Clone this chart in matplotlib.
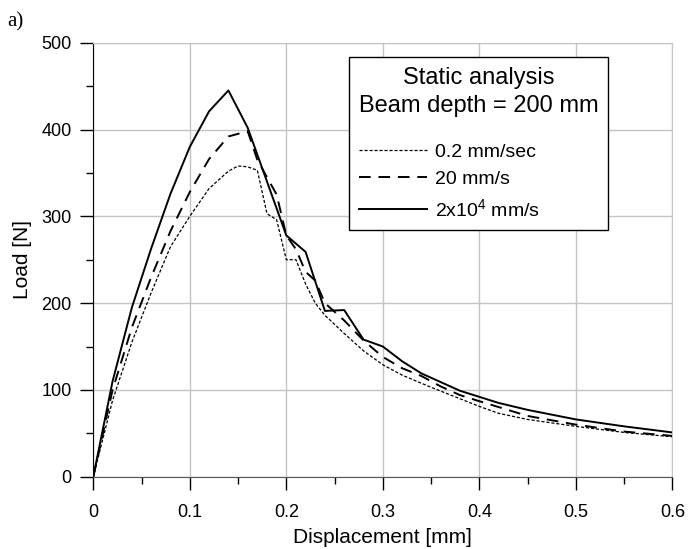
import numpy as np
import matplotlib
matplotlib.use("Agg")
import matplotlib.pyplot as plt
from matplotlib.ticker import MultipleLocator

plt.rcParams.update({
    'font.family': ['Liberation Sans', 'DejaVu Sans'],
    'mathtext.fontset': 'custom',
    'mathtext.rm': 'Liberation Sans',
    'mathtext.default': 'regular',
    'axes.labelsize': 15,
    'xtick.labelsize': 13,
    'ytick.labelsize': 13,
})

# 0.2 mm/sec (dotted)
x_slow = [0, 0.02, 0.04, 0.06, 0.08, 0.10, 0.12, 0.14, 0.15, 0.16, 0.17, 0.18, 0.19,
          0.20, 0.21, 0.22, 0.23, 0.24, 0.26, 0.28, 0.30, 0.32, 0.35, 0.40, 0.42,
          0.45, 0.50, 0.55, 0.60]
y_slow = [0, 88, 155, 212, 265, 300, 332, 352, 358, 357, 353, 303, 296,
          250, 250, 222, 200, 186, 165, 145, 129, 117, 103, 81, 73,
          66, 58, 51, 46]

# 20 mm/s (dashed)
x_mid = [0, 0.02, 0.04, 0.06, 0.08, 0.10, 0.12, 0.14, 0.16, 0.17, 0.18, 0.19,
         0.20, 0.21, 0.22, 0.23, 0.24, 0.26, 0.28, 0.30, 0.32, 0.34, 0.36, 0.38,
         0.40, 0.45, 0.50, 0.55, 0.60]
y_mid = [0, 100, 172, 230, 283, 328, 366, 392, 398, 365, 345, 325,
         278, 262, 236, 226, 200, 180, 157, 138, 125, 116, 104, 94,
         87, 70, 60, 52, 47]

# 2x10^4 mm/s (solid)
x_fast = [0, 0.02, 0.04, 0.06, 0.08, 0.10, 0.12, 0.14, 0.16, 0.18, 0.20, 0.22,
          0.24, 0.26, 0.28, 0.30, 0.32, 0.34, 0.36, 0.38, 0.40, 0.42, 0.45,
          0.50, 0.55, 0.60]
y_fast = [0, 110, 195, 263, 326, 380, 421, 445, 402, 340, 278, 259,
          191, 192, 158, 150, 133, 119, 109, 99, 92, 85, 77,
          66, 58, 51]

labels = ["0.2 mm/sec", "20 mm/s", "2x10$^{4}$ mm/s"]
xtick_labels = ["0", "0.1", "0.2", "0.3", "0.4", "0.5", "0.6"]

fig = plt.figure(figsize=(6.88, 5.49), dpi=100)
ax = fig.add_axes([0.1356, 0.1317, 0.8416, 0.7905])

ax.plot(x_slow, y_slow, color='k', linestyle=(0, (2.5, 1.5)), linewidth=0.9, label=labels[0])
ax.plot(x_mid, y_mid, color='k', linestyle=(0, (6, 4)), linewidth=1.4, label=labels[1])
ax.plot(x_fast, y_fast, color='k', linestyle='-', linewidth=1.4, label=labels[2])

ax.set_xlim(0, 0.6)
ax.set_ylim(0, 500)
ax.set_xticks(np.arange(0, 0.61, 0.1))
ax.set_xticklabels(xtick_labels)
ax.xaxis.set_minor_locator(MultipleLocator(0.05))
ax.yaxis.set_major_locator(MultipleLocator(100))
ax.yaxis.set_minor_locator(MultipleLocator(50))
ax.tick_params(which='major', direction='out', length=9.5, width=1, pad=6)
ax.tick_params(which='minor', direction='out', length=5, width=1)
ax.tick_params(axis='x', which='major', pad=10)
ax.grid(True, which='major', color='#c4c4c4', linewidth=1)
ax.set_axisbelow(True)
ax.spines['left'].set_color('k')
ax.spines['bottom'].set_color('#555555')
ax.spines['top'].set_color('#c4c4c4')
ax.spines['right'].set_color('#c4c4c4')

ax.set_xlabel("Displacement [mm]", labelpad=5)
ax.set_ylabel("Load [N]", labelpad=7)

leg = ax.legend(loc='upper left', bbox_to_anchor=(0.4416, 0.9664), borderaxespad=0,
                title="Static analysis\nBeam depth = 200 mm", fontsize=14,
                title_fontsize=17, handlelength=3.5, handletextpad=0.4,
                labelspacing=0.5, borderpad=0.5, fancybox=False, framealpha=1,
                edgecolor='k', alignment='left')
leg.get_title().set_multialignment('center')
leg.get_title().set_linespacing(1.35)
leg._legend_box.sep = 19
leg.get_frame().set_linewidth(1)

fig.text(0.01, 0.978, "a)", family='Liberation Serif', fontsize=15, va='top', ha='left')

fig.savefig("out.png", dpi=100)
